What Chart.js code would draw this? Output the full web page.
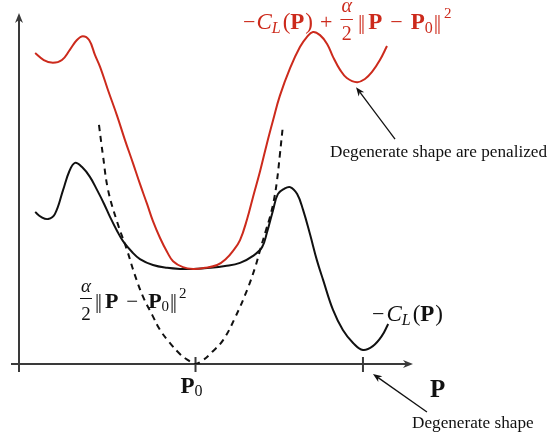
<!DOCTYPE html>
<html>
<head>
<meta charset="utf-8">
<script src="https://cdn.jsdelivr.net/npm/chart.js@4.4.1/dist/chart.umd.min.js"></script>
<style>
  html,body{margin:0;padding:0;background:#fff;}
  #wrap{width:549px;height:439px;}
</style>
</head>
<body>
<div id="wrap"><canvas id="c" width="549" height="439"></canvas></div>
<script>
// -C_L(P): the raw cost, with its degenerate minimum on the right
const blackX = [0.41,0.56,0.74,0.91,1.12,1.27,1.42,1.60,1.80,1.98,2.16,2.31,2.49,2.64,2.87,3.07,3.40,3.76,4.09,4.42,4.85,5.23,5.61,5.94,6.17,6.29,6.45,6.57,6.73,6.88,7.06,7.21,7.39,7.56,7.72,7.97,8.22,8.48,8.73,8.98,9.21,9.37];
const blackY = [4.33,4.19,4.13,4.27,4.96,5.47,5.73,5.61,5.33,4.96,4.56,4.19,3.79,3.50,3.19,2.99,2.82,2.74,2.71,2.71,2.74,2.79,2.88,3.08,3.33,3.73,4.39,4.84,4.99,5.04,4.84,4.39,3.68,2.96,2.39,1.54,0.97,0.60,0.40,0.51,0.80,1.14];

// -C_L(P) + alpha/2 ||P - P0||^2: the penalized cost
const redX = [0.41,0.63,0.86,1.09,1.29,1.47,1.62,1.78,1.93,2.06,2.26,2.49,2.69,2.89,3.07,3.25,3.40,3.58,3.76,3.91,4.16,4.42,4.72,5.03,5.25,5.43,5.61,5.79,5.94,6.12,6.29,6.45,6.62,6.88,7.13,7.31,7.46,7.64,7.82,7.97,8.15,8.32,8.58,8.78,8.96,9.16,9.34];
const redY = [8.86,8.66,8.58,8.66,8.95,9.23,9.34,9.23,8.80,8.46,7.80,7.07,6.38,5.73,5.13,4.56,4.07,3.59,3.19,2.93,2.76,2.71,2.74,2.82,2.99,3.22,3.53,4.13,4.76,5.50,6.27,6.95,7.64,8.43,9.03,9.32,9.46,9.37,9.12,8.75,8.38,8.15,8.03,8.12,8.32,8.66,9.06];

// alpha/2 ||P - P0||^2: the penalty term (dashed)
const penX = [2.03,2.13,2.26,2.49,2.74,2.94,3.15,3.38,3.58,3.83,4.09,4.29,4.47,4.67,4.90,5.18,5.48,5.79,5.99,6.12,6.27,6.37,6.47,6.55,6.62,6.70];
const penY = [6.81,5.95,4.96,4.05,3.25,2.54,1.91,1.40,0.97,0.60,0.28,0.11,0.00,0.11,0.34,0.68,1.31,2.11,2.74,3.25,3.82,4.19,4.67,5.24,5.95,6.81];

// marks on the P axis
const tickValues = [4.48, 8.73];
// where the "penalized" arrow points (the red local minimum)
const penalizedAt = [8.58, 8.03];

const RED = '#cc2a1c';
const INK = '#111';
const AXIS = '#3a3a3a';
const SERIF = '"Liberation Serif", "DejaVu Serif", serif';
const rm = s => `${s}px ${SERIF}`;
const it = s => `italic ${s}px ${SERIF}`;
const bf = s => `bold ${s}px ${SERIF}`;

const pts = (xs, ys) => xs.map((x, i) => ({x, y: ys[i]}));

function arrowHead(ctx, x0, y0, x1, y1, len, half) {
  const a = Math.atan2(y1 - y0, x1 - x0);
  const c = Math.cos(a), s = Math.sin(a);
  ctx.beginPath();
  ctx.moveTo(x1, y1);
  ctx.lineTo(x1 - len*c + half*s, y1 - len*s - half*c);
  ctx.lineTo(x1 - len*0.7*c, y1 - len*0.7*s);
  ctx.lineTo(x1 - len*c - half*s, y1 - len*s + half*c);
  ctx.closePath();
  ctx.fill();
}

function arrow(ctx, x0, y0, x1, y1, w, len, half) {
  const a = Math.atan2(y1 - y0, x1 - x0);
  ctx.beginPath();
  ctx.lineWidth = w;
  ctx.moveTo(x0, y0);
  ctx.lineTo(x1 - len*0.7*Math.cos(a), y1 - len*0.7*Math.sin(a));
  ctx.stroke();
  arrowHead(ctx, x0, y0, x1, y1, len, half);
}

// lay out a run of math pieces left to right
function runs(ctx, x, y, parts) {
  parts.forEach(p => {
    x += p.pre || 0;
    if (p.frac) {
      ctx.font = p.f;
      const wn = ctx.measureText(p.frac[0]).width;
      ctx.font = p.f2 || p.f;
      const wd = ctx.measureText(p.frac[1]).width;
      const w = Math.max(wn, wd) + 2;
      ctx.fillText(p.frac[1], x + (w - wd)/2, y + p.den);
      ctx.font = p.f;
      ctx.fillText(p.frac[0], x + (w - wn)/2, y + p.num);
      ctx.fillRect(x, y + p.bar, w, 1);
      x += w;
    } else {
      ctx.font = p.f;
      ctx.fillText(p.t, x, y + (p.dy || 0));
      x += ctx.measureText(p.t).width;
    }
    x += p.post || 0;
  });
  return x;
}

const sketch = {
  id: 'sketch',
  beforeDatasetsDraw(chart) {
    const {ctx, chartArea: a, scales: {x, y}} = chart;
    const x0 = x.getPixelForValue(0), y0 = y.getPixelForValue(0);
    ctx.save();
    ctx.strokeStyle = AXIS; ctx.fillStyle = AXIS;
    arrow(ctx, x0 - 8, y0, a.right, y0, 2, 10, 4);
    arrow(ctx, x0, y0 + 8, x0, a.top, 2, 10, 4);
    ctx.lineWidth = 2;
    tickValues.forEach(v => {
      const px = x.getPixelForValue(v);
      ctx.beginPath(); ctx.moveTo(px, y0 - 7); ctx.lineTo(px, y0 + 8); ctx.stroke();
    });
    ctx.restore();
  },
  afterDraw(chart) {
    const {ctx, chartArea: a, scales: {x, y}} = chart;
    const y0 = y.getPixelForValue(0);
    ctx.save();
    ctx.textBaseline = 'alphabetic';

    // P0 under its tick, P at the end of the axis
    ctx.fillStyle = INK;
    const p0 = x.getPixelForValue(tickValues[0]);
    runs(ctx, p0 - 15, y0 + 29, [
      {t: 'P', f: bf(23)}, {t: '0', f: rm(16), dy: 3}
    ]);
    runs(ctx, a.right + 17, y0 + 33, [{t: 'P', f: bf(25)}]);

    // -C_L(P)
    runs(ctx, 372, 321, [
      {t: '\u2212', f: rm(22), post: 2}, {t: 'C', f: it(23)},
      {t: 'L', f: it(16), dy: 4, post: 2}, {t: '(', f: rm(23)},
      {t: 'P', f: bf(23), post: 1}, {t: ')', f: rm(23)}
    ]);

    // alpha/2 ||P - P0||^2
    runs(ctx, 80, 308, [
      {frac: ['\u03b1', '2'], f: it(19), f2: rm(19), num: -16, den: 12, bar: -10, post: 3},
      {t: '|', f: rm(21)}, {t: '|', f: rm(21), pre: -1.5, post: 3},
      {t: 'P', f: bf(22), post: 8}, {t: '\u2212', f: rm(21), post: 10},
      {t: 'P', f: bf(22)}, {t: '0', f: rm(15), dy: 3, post: 1},
      {t: '|', f: rm(21)}, {t: '|', f: rm(21), pre: -1.5, post: 2},
      {t: '2', f: rm(15), dy: -10}
    ]);

    // penalized cost, in red
    ctx.fillStyle = RED;
    runs(ctx, 243, 29, [
      {t: '\u2212', f: rm(22), post: 1}, {t: 'C', f: it(23)},
      {t: 'L', f: it(16), dy: 4, post: 2}, {t: '(', f: rm(23)},
      {t: 'P', f: bf(23), post: 1}, {t: ')', f: rm(23), post: 7},
      {t: '+', f: rm(22), post: 8},
      {frac: ['\u03b1', '2'], f: it(20), f2: rm(20), num: -17, den: 11, bar: -10, post: 5},
      {t: '|', f: rm(22)}, {t: '|', f: rm(22), pre: -1.5, post: 3},
      {t: 'P', f: bf(23), post: 8}, {t: '\u2212', f: rm(22), post: 8},
      {t: 'P', f: bf(23)}, {t: '0', f: rm(16), dy: 4, post: 1},
      {t: '|', f: rm(22)}, {t: '|', f: rm(22), pre: -1.5, post: 3},
      {t: '2', f: rm(15), dy: -11}
    ]);

    // annotations
    ctx.fillStyle = INK; ctx.strokeStyle = INK;
    const px = x.getPixelForValue(penalizedAt[0]), py = y.getPixelForValue(penalizedAt[1]);
    arrow(ctx, px + 38, py + 57, px - 1, py + 5, 1.3, 9, 3.5);
    const dx = x.getPixelForValue(tickValues[1]);
    arrow(ctx, dx + 64, y0 + 48, dx + 10, y0 + 10, 1.3, 9, 3.5);

    ctx.font = rm(17.2);
    ctx.fillText('Degenerate shape are penalized', 330, 157);
    ctx.fillText('Degenerate shape', 412, 428);
    ctx.restore();
  }
};

new Chart(document.getElementById('c'), {
  type: 'line',
  data: {
    datasets: [
      {data: pts(redX, redY), borderColor: RED, borderWidth: 2},
      {data: pts(blackX, blackY), borderColor: INK, borderWidth: 2},
      {data: pts(penX, penY), borderColor: INK, borderWidth: 2, borderDash: [6, 5]}
    ]
  },
  options: {
    responsive: false,
    animation: false,
    layout: {padding: {left: 19, right: 136, top: 13, bottom: 75}},
    elements: {
      point: {radius: 0, hoverRadius: 0},
      line: {tension: 0.4, fill: false, capBezierPoints: false}
    },
    plugins: {legend: {display: false}, tooltip: {enabled: false}},
    scales: {
      x: {type: 'linear', min: 0, max: 10, display: false},
      y: {type: 'linear', min: 0, max: 10, display: false}
    }
  },
  plugins: [sketch]
});
</script>
</body>
</html>
